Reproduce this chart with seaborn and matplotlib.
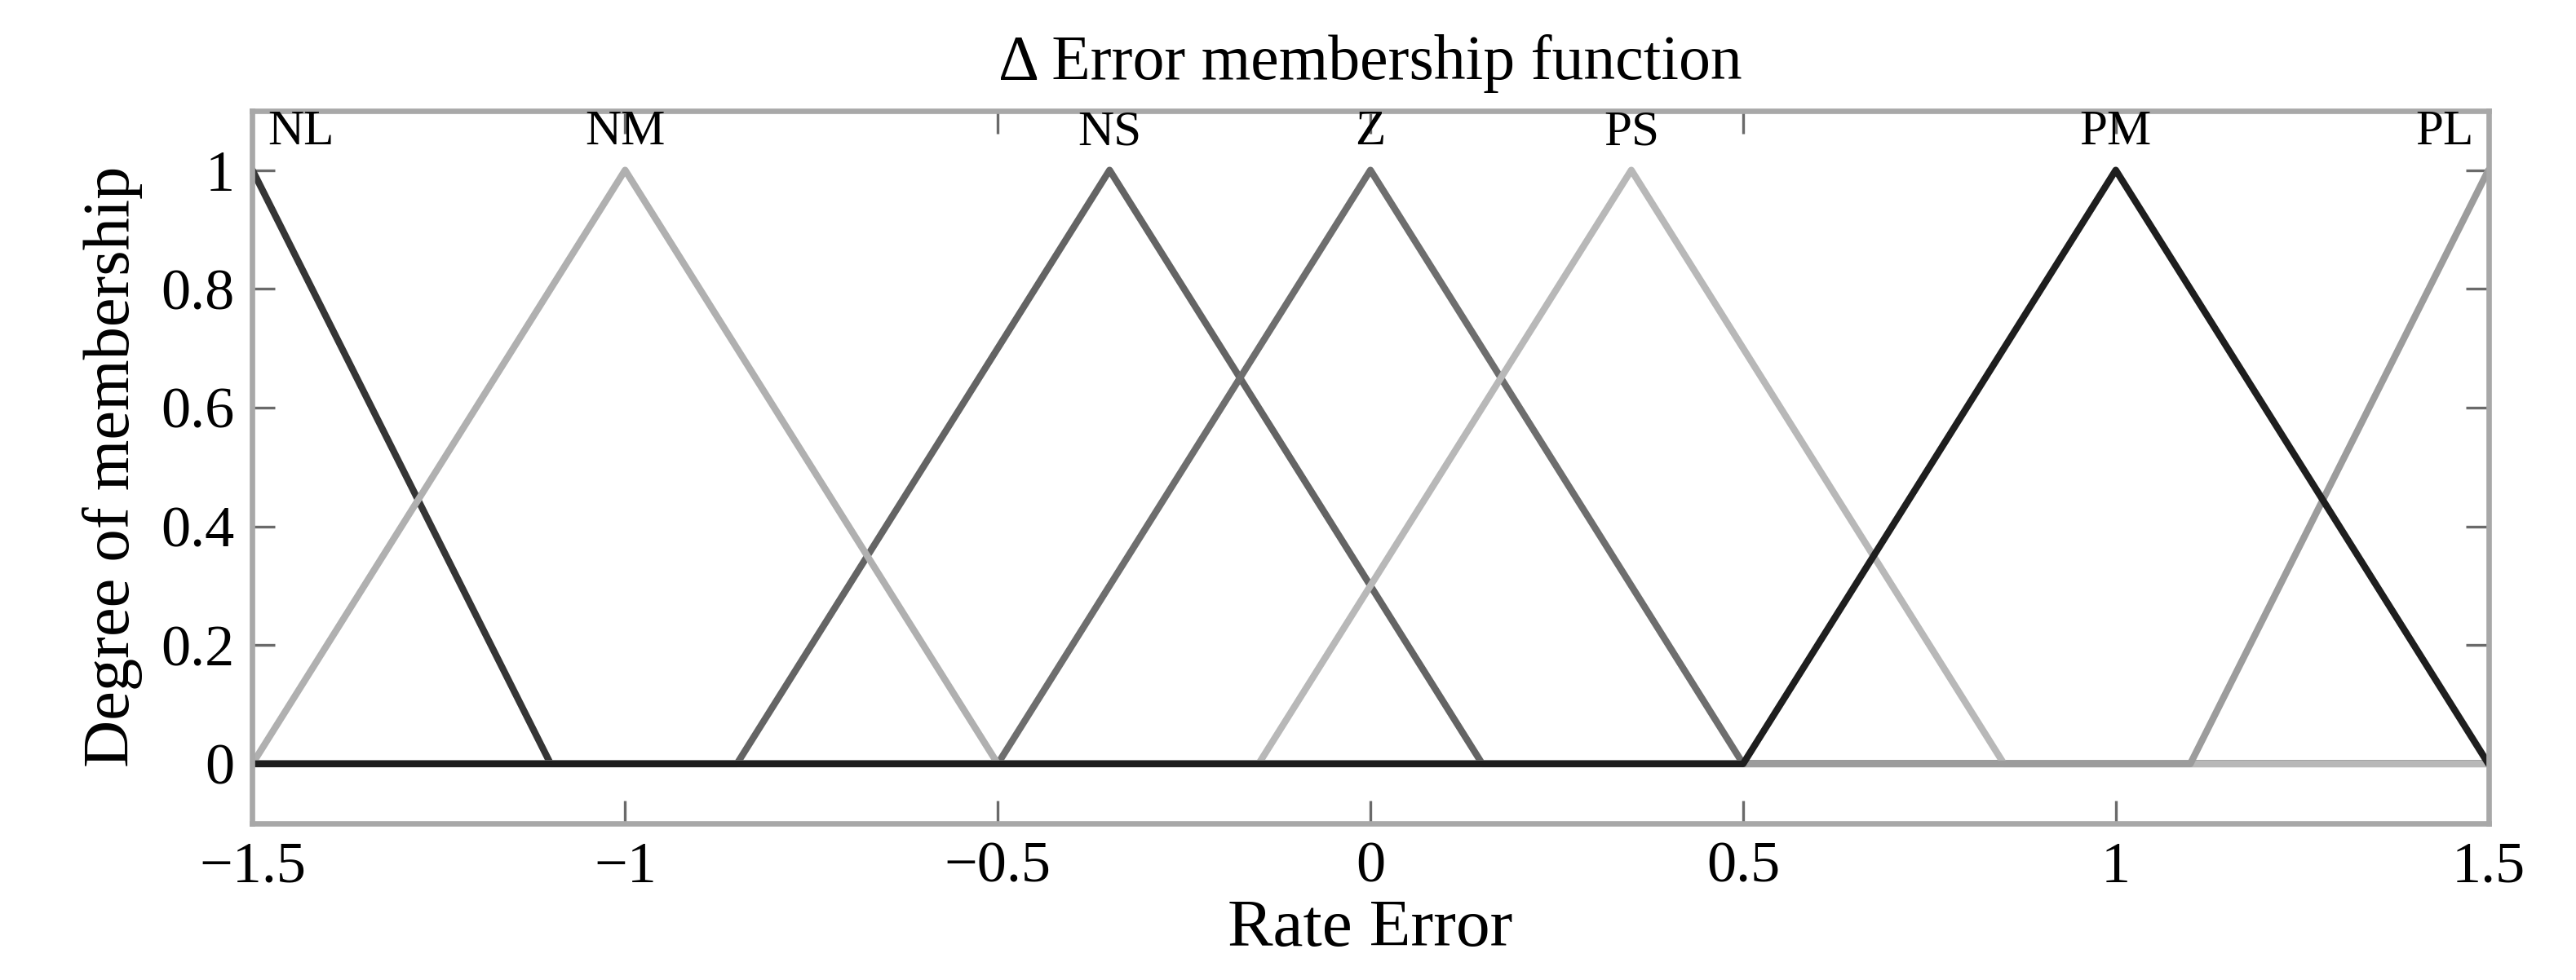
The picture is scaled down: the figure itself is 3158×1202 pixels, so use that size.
import numpy as np
import pandas as pd
import matplotlib
matplotlib.use("Agg")
import matplotlib.pyplot as plt
import seaborn as sns

# membership sets (a, b, c) of each triangle
names = ["NL", "NM", "NS", "Z", "PS", "PM", "PL"]
left = [-1.5, -1.5, -0.85, -0.5, -0.15, 0.5, 1.1]
peak = [-1.5, -1.0, -0.35, 0.0, 0.35, 1.0, 1.5]
right = [-1.1, -0.5, 0.15, 0.5, 0.85, 1.5, 1.9]
greys = ["#353535", "#b0b0b0", "#646464", "#6e6e6e", "#b8b8b8", "#1e1e1e", "#9c9c9c"]
draw_order = ["NL", "NS", "Z", "NM", "PS", "PL", "PM"]

x_ticks = [-1.5, -1, -0.5, 0, 0.5, 1, 1.5]
x_ticklabels = ["\u22121.5", "\u22121", "\u22120.5", "0", "0.5", "1", "1.5"]
y_ticks = [0, 0.2, 0.4, 0.6, 0.8, 1]
y_ticklabels = ["0", "0.2", "0.4", "0.6", "0.8", "1"]


def trimf(x, a, b, c):
    y = np.zeros_like(x)
    if b > a:
        m = (x >= a) & (x <= b)
        y[m] = (x[m] - a) / (b - a)
    if c > b:
        m = (x >= b) & (x <= c)
        y[m] = (c - x[m]) / (c - b)
    y[x == b] = 1.0
    return y


xs = np.round(np.linspace(-1.5, 1.5, 3001), 6)
rows = []
for n, a, b, c in zip(names, left, peak, right):
    rows.append(pd.DataFrame({"x": xs, "mu": trimf(xs, a, b, c), "set": n}))
df = pd.concat(rows, ignore_index=True)

sns.set_style("white")
plt.rcParams["font.family"] = ["Liberation Serif", "DejaVu Serif"]
plt.rcParams["text.color"] = "black"
plt.rcParams["axes.labelcolor"] = "black"
plt.rcParams["xtick.labelcolor"] = "black"
plt.rcParams["ytick.labelcolor"] = "black"

fig, ax = plt.subplots(figsize=(15.79, 6.01), dpi=200)
fig.subplots_adjust(left=0.098, right=0.966, top=0.887, bottom=0.160)

pal = dict(zip(names, greys))
for n in draw_order:
    sub = df[df["set"] == n]
    sns.lineplot(data=sub, x="x", y="mu", color=pal[n], lw=3.0,
                 estimator=None, sort=False, ax=ax, legend=False)

for n, b in zip(names, peak):
    xt = b
    ha = "center"
    if n == "NL":
        xt, ha = b + 0.02, "left"
    if n == "PL":
        xt, ha = b - 0.02, "right"
    ax.text(xt, 1.025, n, ha=ha, va="bottom", fontsize=22, color="black")

ax.set_xlim(-1.5, 1.5)
ax.set_ylim(-0.1, 1.1)
ax.set_xticks(x_ticks)
ax.set_xticklabels(x_ticklabels)
ax.set_yticks(y_ticks)
ax.set_yticklabels(y_ticklabels)
ax.tick_params(direction="in", length=10, width=1.2, color="#6a6a6a",
               labelsize=26, labelcolor="black", pad=8,
               bottom=True, left=True, top=True, right=True)
for s in ax.spines.values():
    s.set_color("#a8a8a8")
    s.set_linewidth(2.4)

ax.set_title("\u0394 Error membership function", fontsize=28, pad=14, color="black")
ax.set_xlabel("Rate Error", fontsize=30, labelpad=2)
ax.set_ylabel("Degree of membership", fontsize=29, labelpad=8)

fig.savefig("out.png", dpi=200)
